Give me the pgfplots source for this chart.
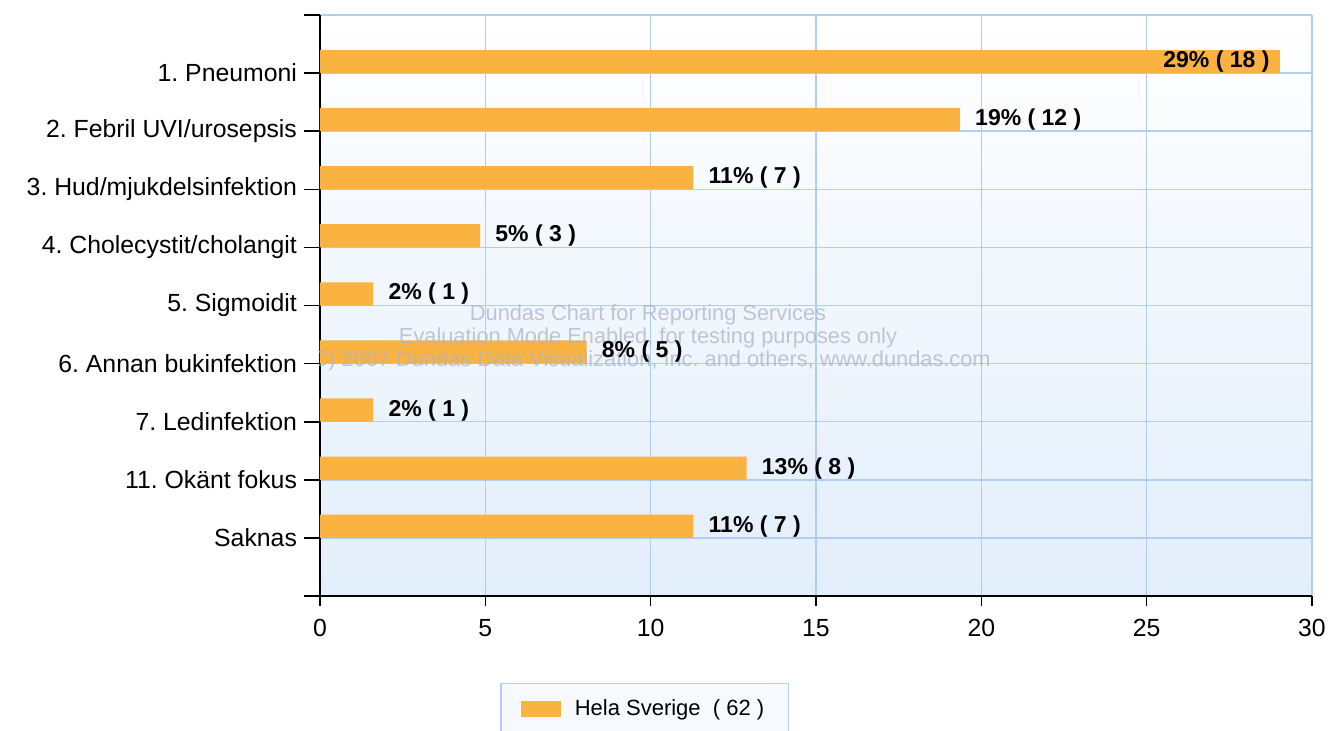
\documentclass[border=0pt]{standalone}
\usepackage{pgfplots}
\pgfplotsset{compat=1.18}
\usepackage{fontspec}
\setmainfont{Liberation Sans}
\frenchspacing
\definecolor{barorange}{RGB}{250,178,64}
\definecolor{gridblue}{RGB}{178,205,242}
\definecolor{bgbottom}{RGB}{226,238,251}
\definecolor{wmgray}{RGB}{175,180,200}
\definecolor{legfill}{RGB}{246,250,255}
\begin{document}
\begin{tikzpicture}
\path[use as bounding box, clip] (-160pt,-67pt) rectangle (505pt,298pt);
\begin{axis}[
  at={(0pt,0pt)}, anchor=south west,
  scale only axis, width=496pt, height=290.5pt,
  xmin=0, xmax=30, ymin=0, ymax=10,
  xbar, bar width=0.4, bar shift=0pt,
  axis x line*=bottom, axis y line*=left,
  x axis line style={-, line width=1pt, black},
  y axis line style={-, line width=1pt, black},
  axis background/.style={top color=white, bottom color=bgbottom},
  grid=major,
  major grid style={draw=gridblue, line width=0.75pt},
  tick align=outside,
  major tick length=8pt,
  xtick style={black, line width=0.8pt, /pgfplots/major tick length=5pt},
  ytick style={black, line width=0.8pt},
  xtick={0,5,...,30},
  ytick={0,1,...,10},
  yticklabels={{},Saknas,11. Okänt fokus,7. Ledinfektion,6. Annan bukinfektion,5. Sigmoidit,4. Cholecystit/cholangit,3. Hud/mjukdelsinfektion,2. Febril UVI/urosepsis,1. Pneumoni,{}},
  ticklabel style={font=\fontsize{12.4}{14}\selectfont, text=black},
  /pgf/number format/assume math mode=true,
  legend style={at={(0.1815,-0.1497)}, anchor=north west, draw=gridblue, line width=0.75pt, fill=legfill,
    inner xsep=10pt, inner ysep=6pt, column sep=5pt, font=\fontsize{11}{13}\selectfont, legend cell align=left},
  legend image code/.code={\fill[barorange] (0pt,-4pt) rectangle (20pt,4pt);},
  nodes near coords,
  point meta=explicit symbolic,
]
\addplot[fill=barorange, draw=none,
  nodes near coords style={anchor=west, inner sep=0pt, xshift=7.5pt, font=\bfseries\fontsize{11.5}{13}\selectfont, text=black}]
  coordinates {
  (19.35,8.2) [{19\% ( 12 )}]
  (11.29,7.2) [{11\% ( 7 )}]
  (4.84,6.2) [{5\% ( 3 )}]
  (1.61,5.2) [{2\% ( 1 )}]
  (8.06,4.2) [{8\% ( 5 )}]
  (1.61,3.2) [{2\% ( 1 )}]
  (12.90,2.2) [{13\% ( 8 )}]
  (11.29,1.2) [{11\% ( 7 )}]
};
\addlegendentry{Hela Sverige\ \ ( 62 )\hspace{3.5pt}}
\addplot[fill=barorange, draw=none, forget plot,
  nodes near coords style={anchor=east, inner sep=0pt, xshift=-5pt, font=\bfseries\fontsize{11.5}{13}\selectfont, text=black}]
  coordinates {
  (29.03,9.2) [{29\% ( 18 )}]
};
\node[font=\fontsize{10.9}{11.5}\selectfont, text=wmgray, text opacity=0.75, align=center] at (axis cs:9.92,4.44)
  {Dundas Chart for Reporting Services\\Evaluation Mode Enabled, for testing purposes only\\(C) 2007 Dundas Data Visualization, Inc. and others, www.dundas.com};
\end{axis}
\end{tikzpicture}
\end{document}
